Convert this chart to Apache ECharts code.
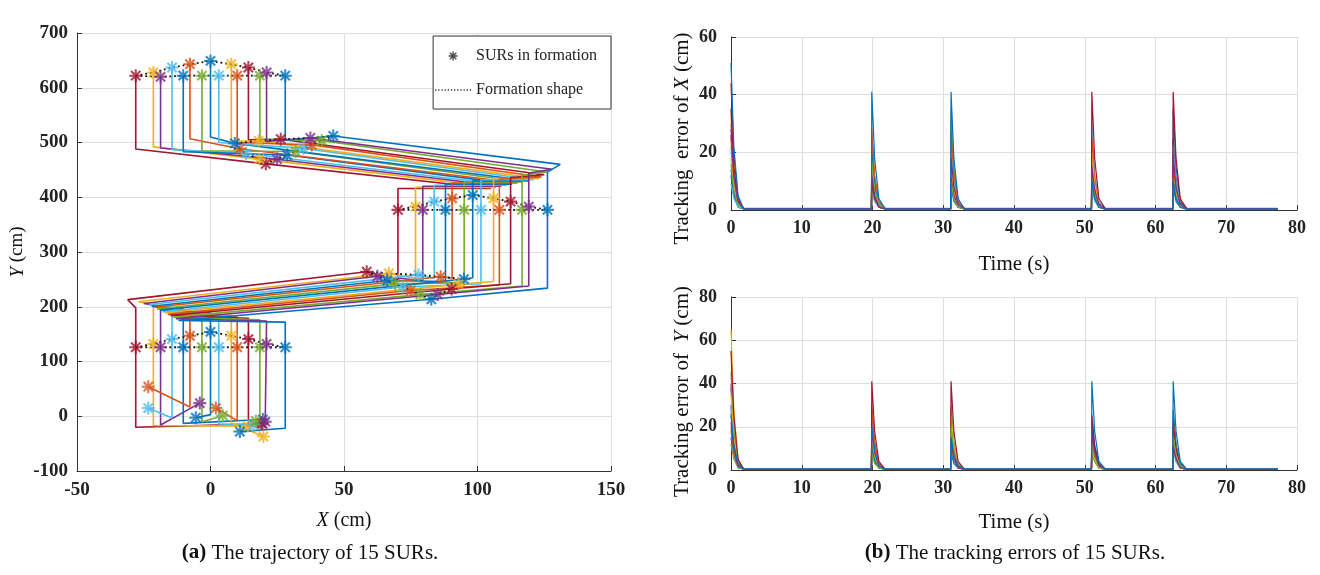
<!DOCTYPE html>
<html>
<head>
<meta charset="utf-8">
<script src="https://cdn.jsdelivr.net/npm/echarts@6/dist/echarts.min.js"></script>
<style>
html,body{margin:0;padding:0;background:#fff;}
#chart{width:1320px;height:575px;}
</style>
</head>
<body>
<div id="chart"></div>
<script>
// ---------------- DATA: trajectories of 15 SURs ----------------
const robotColors = ['#A2142F','#EDB120','#7E2F8E','#4DBEEE','#0072BD','#D95319','#77AC30','#0072BD','#4DBEEE','#EDB120','#D95319','#A2142F','#77AC30','#7E2F8E','#0072BD'];
// initial positions
const sX = [19.5, 14, -4, -23.3, 19.6, -23.3, 4.6, -5.5, 16, 19.8, 2, 19, 17, 20.5, 11];
const sY = [-14, -18, 24, 15, -6, 54, 1, -2.6, -16, -37, 15, -12, -9, -10, -28];
// columns of formation 1 / 3 (x) and formation 2 (x)
const colX1 = [-28, -21.4, -18.7, -14.4, -10.2, -7.7, -3.2, 0, 3.1, 7.8, 10, 14.2, 18.5, 21, 28];
const colX2 = [70.2, 76.8, 79.5, 83.8, 88.0, 90.5, 95.0, 98.2, 101.3, 106.0, 108.2, 112.4, 116.7, 119.2, 126.2];
// formation star heights
const f1Y = [126, 132, 126, 141, 126, 147, 126, 154, 126, 147, 126, 141, 126, 132, 126];
const f2Y = [377, 383, 377, 392, 377, 398, 377, 404, 377, 398, 377, 392, 377, 383, 377];
const f3Y = [622, 628, 620, 637, 622, 643, 622, 649, 622, 643, 622, 637, 622, 628, 622];
// bottom / top of column 1
const yB1 = [-20, -17, -16, -3, -13, 17, -10, 3, -14, -12, -8, -18, -19, -11, -22];
const yT1 = [198, 204, 201, 199, 196, 194, 191, 189, 186, 184, 181, 179, 176, 174, 172];
// start of first diagonal
const lX = [-31, -27, -25, -23, -22, -21, -20, -19, -18, -17, -16, -15, -14, -13, -12];
const lY = [213, 209, 206, 204, 201, 199, 196, 194, 191, 189, 186, 184, 181, 178, 175];
// transit snapshot A (lower)
const aX = [58.5, 66.8, 62.5, 77.9, 66.2, 86.2, 69.2, 94.9, 72.0, 92.9, 75.0, 90.3, 78.6, 85.1, 82.7];
const aY = [264, 260.7, 255.6, 258.3, 248.0, 254.8, 241.7, 250.5, 236.0, 240.9, 229.8, 232.5, 222.2, 222.5, 213.6];
// bottom / top of column 2
const yB2 = [249, 252, 248, 252, 246, 252, 244, 253, 242, 246, 240, 242, 238, 238, 234];
const yT2 = [416, 418, 420, 422, 424, 426, 428, 430, 432, 434, 433, 436, 440, 444, 446];
// right end of second diagonal
const rX = [105, 107, 109, 111, 113, 115, 117, 119, 121, 123, 124, 125, 126, 128, 131];
const rY = [416, 418, 420, 422, 424, 426, 428, 430, 432, 434, 437, 441, 446, 451, 460];
// transit snapshot B (upper)
const bX = [20.7, 18.3, 24.9, 13.3, 28.7, 11.0, 31.9, 9.1, 34.8, 18.0, 37.9, 26.3, 41.7, 37.4, 46.0];
const bY = [461, 469.6, 469.5, 480.0, 477.2, 488.7, 483.6, 498.4, 489.3, 502.8, 495.6, 506.0, 503.4, 508.2, 512.0];
// bottom of column 3
const yB3 = [488, 492, 490, 487, 483, 507, 485, 510, 500, 503, 500, 505, 506, 502, 504];
// formation shape connection order
const archOrder = [0, 1, 3, 5, 7, 9, 11, 13, 14];
const baseOrder = [0, 2, 4, 6, 8, 10, 12, 14];
// axis ticks
const trajXTicks = [-50, 0, 50, 100, 150];
const trajYTicks = [-100, 0, 100, 200, 300, 400, 500, 600, 700];

// ---------------- DATA: tracking errors ----------------
const spikeStartT = [0, 19.85, 31.05, 50.95, 62.45];
const spikePeakT  = [0, 19.9, 31.1, 51.0, 62.5];
const spikeMidT   = [0.4, 20.3, 31.5, 51.4, 62.9];
const spikeTailT  = [1.0, 20.9, 32.1, 52.0, 63.5];
const spikeEndT   = [1.8, 21.8, 33.0, 52.9, 64.4];
const errFinalT = 77.3;
const errXPeak = [[44,18,20,22,25],[33,22,14,12,10],[26,12,30,18,20],[20,8,9,30,15],[14,15,17,9,35],[30,26,12,25,12],[22,10,35,14,18],[12,20,8,16,8],[9,6,22,8,22],[18,14,15,20,14],[25,28,27,11,16],[35,9,11,41,41],[16,17,10,13,11],[28,12,18,15,19],[51,41,41,10,10]];
const errXMid  = [[19,8,9,10,11],[15,10,6,5,4],[12,5,13,8,9],[9,3,4,13,7],[6,7,8,4,15],[13,11,5,11,5],[10,4,15,6,8],[5,9,3,7,3],[4,3,10,3,10],[8,6,7,9,6],[11,12,12,5,7],[15,4,5,18,18],[7,7,4,6,5],[12,5,8,7,8],[22,18,18,4,4]];
const errXTail = [[4,2,2,2,3],[3,2,1,1,1],[3,1,3,2,2],[2,1,1,3,2],[1,2,2,1,3],[3,3,1,2,1],[2,1,3,1,2],[1,2,1,2,1],[1,1,2,1,2],[2,1,2,2,1],[2,3,3,1,2],[3,1,1,4,4],[2,2,1,1,1],[3,1,2,2,2],[5,4,4,1,1]];
const errXBase = [0.4,0.3,0.5,0.3,0.4,0.6,0.3,0.4,0.5,0.3,0.4,0.5,0.3,0.4,0.3];
const errYPeak = [[40,18,22,15,20],[65,25,14,20,12],[30,12,28,10,18],[25,20,10,26,14],[38,9,18,12,25],[20,28,12,18,10],[45,14,30,9,16],[15,10,8,22,28],[28,22,16,14,9],[35,16,25,11,22],[18,30,12,16,13],[55,41,41,25,22],[12,8,20,13,15],[22,19,14,17,11],[26,20,15,41,41]];
const errYMid  = [[18,8,10,7,9],[28,11,6,9,5],[13,5,12,4,8],[11,9,4,12,6],[17,4,8,5,11],[9,12,5,8,4],[20,6,13,4,7],[7,4,3,10,12],[12,10,7,6,4],[15,7,11,5,10],[8,13,5,7,6],[25,18,18,11,10],[5,3,9,6,7],[10,8,6,8,5],[12,9,7,18,18]];
const errYTail = [[4,2,2,2,2],[5,2,1,2,1],[3,1,3,1,2],[2,2,1,3,1],[3,1,2,1,3],[2,3,1,2,1],[4,1,3,1,2],[1,1,1,2,3],[2,2,2,1,1],[3,2,2,1,2],[2,3,1,2,1],[5,4,4,3,2],[1,1,2,1,2],[2,2,1,2,1],[3,2,2,4,4]];
const errYBase = [0.5,0.4,0.3,0.5,0.4,0.3,0.6,0.4,0.3,0.5,0.4,0.3,0.5,0.4,0.4];

// ---------------- BUILD ----------------
const FONT = 'Liberation Serif';
const STAR = 'path://M-1.6,-10L1.6,-10L1.6,10L-1.6,10Z M-10,-1.6L10,-1.6L10,1.6L-10,1.6Z M-8.3,-6L-6,-8.3L8.3,6L6,8.3Z M6,-8.3L8.3,-6L-6,8.3L-8.3,6Z';
const DOTS = 'path://M0,0L1.2,0L1.2,1.2L0,1.2Z M3,0L4.2,0L4.2,1.2L3,1.2Z M6,0L7.2,0L7.2,1.2L6,1.2Z M9,0L10.2,0L10.2,1.2L9,1.2Z M12,0L13.2,0L13.2,1.2L12,1.2Z M15,0L16.2,0L16.2,1.2L15,1.2Z M18,0L19.2,0L19.2,1.2L18,1.2Z M21,0L22.2,0L22.2,1.2L21,1.2Z M24,0L25.2,0L25.2,1.2L24,1.2Z M27,0L28.2,0L28.2,1.2L27,1.2Z M30,0L31.2,0L31.2,1.2L30,1.2Z M33,0L34.2,0L34.2,1.2L33,1.2Z';
const N = robotColors.length;
const series = [];

for (let k = 0; k < N; k++) {
  series.push({
    type: 'line', xAxisIndex: 0, yAxisIndex: 0, symbol: 'none', silent: true, z: 2,
    lineStyle: { color: robotColors[k], width: 1.6 },
    data: [
      [sX[k], sY[k]], [colX1[k], yB1[k]], [colX1[k], yT1[k]], [lX[k], lY[k]], [aX[k], aY[k]],
      [colX2[k], yB2[k]], [colX2[k], yT2[k]], [rX[k], rY[k]], [bX[k], bY[k]],
      [colX1[k], yB3[k]], [colX1[k], f3Y[k]]
    ]
  });
}

const formations = [[colX1, f1Y], [colX2, f2Y], [colX1, f3Y], [aX, aY], [bX, bY]];
formations.forEach(([xs, ys]) => {
  [archOrder, baseOrder].forEach(order => {
    series.push({
      type: 'line', name: 'Formation shape', xAxisIndex: 0, yAxisIndex: 0, symbol: 'none', silent: true, z: 3,
      lineStyle: { color: '#111', width: 1.8, type: [1.8, 3] },
      itemStyle: { color: '#333' },
      data: order.map(i => [xs[i], ys[i]])
    });
  });
});

const starData = [];
[[sX, sY], [colX1, f1Y], [colX2, f2Y], [colX1, f3Y], [aX, aY], [bX, bY]].forEach(([xs, ys]) => {
  for (let k = 0; k < N; k++) starData.push({ value: [xs[k], ys[k]], itemStyle: { color: robotColors[k] } });
});
series.push({
  type: 'scatter', name: 'SURs in formation', xAxisIndex: 0, yAxisIndex: 0, symbol: STAR, symbolSize: 13,
  itemStyle: { color: '#222' }, z: 4, silent: true, data: starData
});

function errSeries(peak, mid, tail, base, axisIdx) {
  for (let k = 0; k < N; k++) {
    const d = [];
    for (let s = 0; s < spikePeakT.length; s++) {
      if (s > 0) d.push([spikeStartT[s], base[k]]);
      d.push([spikePeakT[s], peak[k][s]]);
      d.push([spikeMidT[s], mid[k][s]]);
      d.push([spikeTailT[s], tail[k][s]]);
      d.push([spikeEndT[s], base[k]]);
    }
    d.push([errFinalT, base[k]]);
    series.push({
      type: 'line', xAxisIndex: axisIdx, yAxisIndex: axisIdx, symbol: 'none', silent: true,
      lineStyle: { color: robotColors[k], width: 1.2 }, data: d
    });
  }
}
errSeries(errXPeak, errXMid, errXTail, errXBase, 1);
errSeries(errYPeak, errYMid, errYTail, errYBase, 2);

const axisLineS = { show: true, onZero: false, lineStyle: { color: '#333', width: 1 } };
const tickS = { show: true, inside: true, length: 5, lineStyle: { color: '#333' } };
const splitS = { show: true, lineStyle: { color: '#dedede', width: 1 } };
const labelS = (size, margin) => ({ fontFamily: FONT, fontWeight: 'bold', fontSize: size, color: '#222', margin: margin });
const nameS = (size, pad) => ({ fontFamily: FONT, fontSize: size, color: '#111', padding: pad || 0,
  rich: { i: { fontFamily: FONT, fontSize: size, fontStyle: 'italic', color: '#111' } } });

const option = {
  animation: false,
  backgroundColor: '#fff',
  grid: [
    { left: 77, top: 33, width: 534, height: 438 },
    { left: 731, top: 37, width: 566, height: 173 },
    { left: 731, top: 297, width: 566, height: 173 }
  ],
  xAxis: [
    { type: 'value', gridIndex: 0, min: trajXTicks[0], max: trajXTicks[trajXTicks.length - 1], interval: 50,
      axisLine: axisLineS, axisTick: tickS, splitLine: splitS, axisLabel: labelS(19, 10),
      name: '{i|X} (cm)', nameLocation: 'middle', nameGap: 40, nameTextStyle: nameS(20) },
    { type: 'value', gridIndex: 1, min: 0, max: 80, interval: 10,
      axisLine: axisLineS, axisTick: tickS, splitLine: splitS, axisLabel: labelS(18, 9),
      name: 'Time (s)', nameLocation: 'middle', nameGap: 44, nameTextStyle: nameS(21) },
    { type: 'value', gridIndex: 2, min: 0, max: 80, interval: 10,
      axisLine: axisLineS, axisTick: tickS, splitLine: splitS, axisLabel: labelS(18, 9),
      name: 'Time (s)', nameLocation: 'middle', nameGap: 42, nameTextStyle: nameS(21) }
  ],
  yAxis: [
    { type: 'value', gridIndex: 0, min: trajYTicks[0], max: trajYTicks[trajYTicks.length - 1], interval: 100,
      axisLine: axisLineS, axisTick: tickS, splitLine: splitS, axisLabel: labelS(19, 9),
      name: '{i|Y} (cm)', nameLocation: 'middle', nameGap: 50, nameTextStyle: nameS(19) },
    { type: 'value', gridIndex: 1, min: 0, max: 60, interval: 20,
      axisLine: axisLineS, axisTick: tickS, splitLine: splitS, axisLabel: labelS(18, 14),
      name: 'Tracking  error of {i|X} (cm)', nameLocation: 'middle', nameGap: 38, nameTextStyle: nameS(21, [0, 30, 0, 0]) },
    { type: 'value', gridIndex: 2, min: 0, max: 80, interval: 20,
      axisLine: axisLineS, axisTick: tickS, splitLine: splitS, axisLabel: labelS(18, 14),
      name: 'Tracking error of  {i|Y} (cm)', nameLocation: 'middle', nameGap: 38, nameTextStyle: nameS(21, [0, 16, 0, 0]) }
  ],
  legend: {
    data: [{ name: 'SURs in formation', icon: STAR }, { name: 'Formation shape', icon: DOTS }],
    orient: 'vertical', right: 709, top: 36, itemWidth: 36, itemHeight: 9, itemGap: 18,
    borderColor: '#333', borderWidth: 1, borderRadius: 0, padding: [12, 14, 11, 2], backgroundColor: '#fff',
    textStyle: { fontFamily: FONT, fontSize: 16, color: '#222' }, selectedMode: false
  },
  graphic: [
    { type: 'text', x: 310, y: 553, style: { text: '{b|(a)} The trajectory of 15 SURs.', textAlign: 'center', textVerticalAlign: 'middle',
      fontFamily: FONT, fontSize: 21, fill: '#111', rich: { b: { fontFamily: FONT, fontSize: 21, fontWeight: 'bold', fill: '#111' } } } },
    { type: 'text', x: 1015, y: 553, style: { text: '{b|(b)} The tracking errors of 15 SURs.', textAlign: 'center', textVerticalAlign: 'middle',
      fontFamily: FONT, fontSize: 21, fill: '#111', rich: { b: { fontFamily: FONT, fontSize: 21, fontWeight: 'bold', fill: '#111' } } } }
  ],
  series: series
};

const chart = echarts.init(document.getElementById('chart'), null, { renderer: 'canvas' });
chart.setOption(option);
</script>
</body>
</html>
